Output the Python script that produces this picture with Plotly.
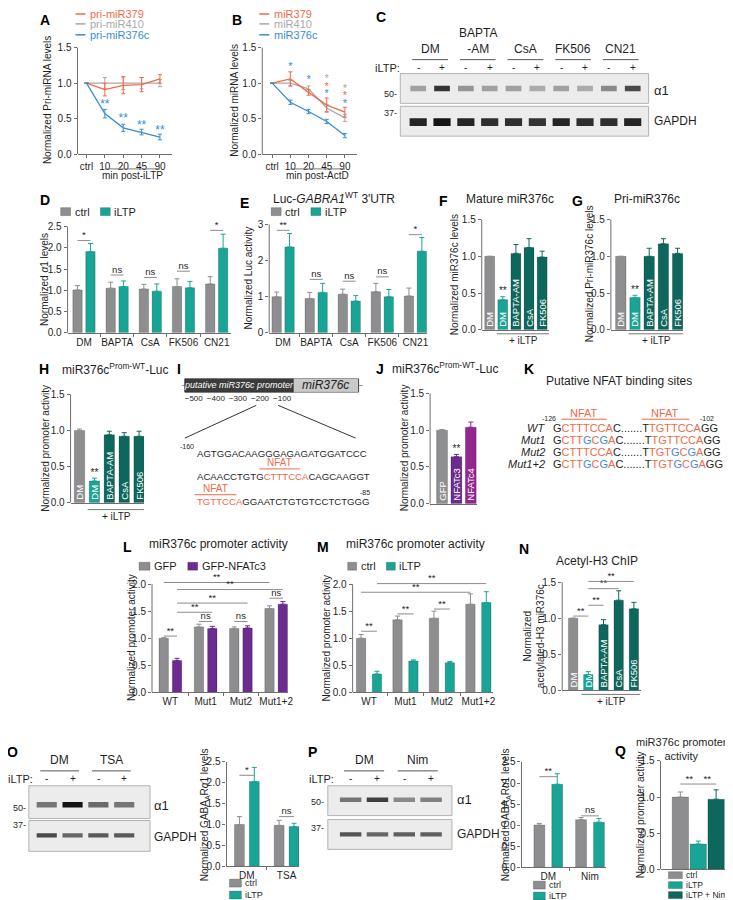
import plotly.graph_objects as go

W, H = 733, 900
FONT = "Arial, 'Liberation Sans', sans-serif"
INK = "#1f1f1f"
AXIS = "#6e6e6e"
GRAY = "#8e8e90"
LINE_GRAY = "#a8a8a8"
TEAL = "#19a596"
DTEAL = "#0d675c"
PURPLE = "#6b2b8f"
MAGENTA = "#93278f"
ORANGE = "#f06a4a"
BLUE = "#3a8dd5"
ARROW = "#2fb2a6"

# ---- A / B : time courses ----
TIMES = ["ctrl", "10", "20", "45", "90"]
A_PRI379 = [1.00, 0.91, 0.97, 0.98, 1.06]
A_PRI379_SEM = [0.0, 0.09, 0.12, 0.10, 0.06]
A_PRI410 = [1.00, 1.00, 1.00, 1.00, 1.00]
A_PRI410_SEM = [0.0, 0.08, 0.09, 0.08, 0.05]
A_PRI376C = [1.00, 0.57, 0.37, 0.31, 0.24]
A_PRI376C_SEM = [0.0, 0.06, 0.05, 0.04, 0.04]
A_STAR_X = [1, 2, 3, 4]
A_STAR_Y = [0.69, 0.49, 0.40, 0.33]

B_MIR379 = [1.00, 1.06, 0.87, 0.69, 0.59]
B_MIR379_SEM = [0.0, 0.10, 0.04, 0.10, 0.07]
B_MIR410 = [1.00, 1.00, 0.92, 0.65, 0.51]
B_MIR410_SEM = [0.0, 0.04, 0.04, 0.05, 0.05]
B_MIR376C = [1.00, 0.73, 0.60, 0.46, 0.26]
B_MIR376C_SEM = [0.0, 0.03, 0.03, 0.03, 0.03]
B_STAR_X = [1, 2, 3, 3, 3, 4, 4, 4]
B_STAR_Y = [1.22, 1.04, 1.05, 0.94, 0.84, 0.92, 0.81, 0.70]
B_STAR_SERIES = ["376c", "376c", "410", "379", "376c", "410", "379", "376c"]

# ---- C : western blot (band darkness 0..1) ----
C_GROUPS = ["DM", "BAPTA<br>-AM", "CsA", "FK506", "CN21"]
C_ILTP = ["-", "+"] * 5
C_A1 = [0.35, 0.85, 0.40, 0.35, 0.35, 0.30, 0.35, 0.30, 0.45, 0.75]
C_GAPDH = [0.92, 1.00, 0.92, 0.88, 0.88, 0.85, 0.92, 0.88, 0.88, 0.92]

# ---- D / E ----
DRUGS = ["DM", "BAPTA", "CsA", "FK506", "CN21"]
D_CTRL = [1.01, 1.05, 1.03, 1.09, 1.15]
D_CTRL_SEM = [0.10, 0.14, 0.11, 0.18, 0.17]
D_ILTP = [1.91, 1.09, 0.98, 1.06, 1.99]
D_ILTP_SEM = [0.19, 0.13, 0.17, 0.15, 0.33]
D_SIG = [(0, 2.17, "*"), (1, 1.36, "ns"), (2, 1.30, "ns"), (3, 1.45, "ns"), (4, 2.41, "*")]

E_CTRL = [1.00, 0.95, 1.07, 1.14, 1.02]
E_CTRL_SEM = [0.13, 0.17, 0.14, 0.23, 0.22]
E_ILTP = [2.38, 1.12, 0.88, 1.00, 2.26]
E_ILTP_SEM = [0.37, 0.25, 0.15, 0.20, 0.38]
E_SIG = [(0, 2.84, "**"), (1, 1.48, "ns"), (2, 1.43, "ns"), (3, 1.55, "ns"), (4, 2.72, "*")]

# ---- F / G / H / N : DM vs +iLTP with inhibitors ----
TREATS = ["DM", "DM", "BAPTA-AM", "CsA", "FK506"]
TREAT_COLORS = [GRAY, TEAL, DTEAL, DTEAL, DTEAL]
F_VALS = [1.00, 0.41, 1.04, 1.12, 0.99]
F_SEM = [0.0, 0.04, 0.12, 0.12, 0.08]
G_VALS = [1.00, 0.44, 1.00, 1.17, 1.04]
G_SEM = [0.0, 0.03, 0.11, 0.07, 0.07]
H_VALS = [1.00, 0.30, 0.94, 0.92, 0.92]
H_SEM = [0.02, 0.04, 0.05, 0.05, 0.07]
N_VALS = [1.00, 0.22, 0.91, 1.25, 1.13]
N_SEM = [0.0, 0.04, 0.07, 0.13, 0.09]
N_SIG = [(0, 1, 1.03), (1, 2, 1.18), (1, 3, 1.41), (1, 4, 1.51)]

# ---- J ----
J_LABELS = ["GFP", "NFATc3", "NFATc4"]
J_VALS = [1.00, 0.64, 1.04]
J_SEM = [0.01, 0.03, 0.07]

# ---- L / M ----
CONSTRUCTS = ["WT", "Mut1", "Mut2", "Mut1+2"]
L_GFP = [1.00, 1.21, 1.18, 1.55]
L_GFP_SEM = [0.01, 0.05, 0.03, 0.05]
L_NFATC3 = [0.59, 1.18, 1.19, 1.63]
L_NFATC3_SEM = [0.04, 0.04, 0.04, 0.05]
L_SIG = [((0, 0), (0, 1), 1.04, "**"), ((1, 0), (1, 1), 1.31, "ns"),
         ((2, 0), (2, 1), 1.31, "ns"), ((3, 0), (3, 1), 1.74, "ns"),
         ((0, 0), (3, 0), 2.03, "**"), ((0, 1), (3, 1), 1.90, "**"),
         ((0, 1), (2, 1), 1.65, "**"), ((0, 1), (1, 1), 1.48, "**")]
M_CTRL = [1.00, 1.34, 1.37, 1.63]
M_CTRL_SEM = [0.07, 0.07, 0.13, 0.19]
M_ILTP = [0.34, 0.58, 0.55, 1.66]
M_ILTP_SEM = [0.05, 0.02, 0.02, 0.20]
M_SIG = [((0, 0), (0, 1), 1.13, "**"), ((1, 0), (1, 1), 1.45, "**"),
         ((2, 0), (2, 1), 1.54, "**"), ((0, 1), (3, 1), 2.01, "**"),
         ((0, 0), (3, 0), 1.85, "**")]

# ---- O / P : blots + quantification ----
O_GROUPS = ["DM", "TSA"]
P_GROUPS = ["DM", "Nim"]
LANES_4 = ["-", "+", "-", "+"]
O_A1 = [0.55, 1.00, 0.60, 0.55]
O_GAPDH = [0.75, 0.62, 0.68, 0.68]
P_A1 = [0.55, 0.80, 0.45, 0.50]
P_GAPDH = [0.70, 0.62, 0.65, 0.65]
O_CTRL = [1.00, 0.98]
O_CTRL_SEM = [0.19, 0.12]
O_ILTP = [2.03, 0.95]
O_ILTP_SEM = [0.34, 0.08]
O_SIG = [(0, 2.18, "*"), (1, 1.19, "ns")]
P_CTRL = [1.00, 1.13]
P_CTRL_SEM = [0.04, 0.05]
P_ILTP = [1.97, 1.07]
P_ILTP_SEM = [0.25, 0.09]
P_SIG = [(0, 2.15, "**"), (1, 1.22, "ns")]

# ---- Q ----
Q_LABELS = ["ctrl", "iLTP", "iLTP + Nim"]
Q_COLORS = [GRAY, TEAL, DTEAL]
Q_VALS = [1.00, 0.35, 0.97]
Q_SEM = [0.07, 0.04, 0.13]
Q_SIG = [(0, 1, 1.18), (1, 2, 1.18)]

fig = go.Figure()
lay, shapes, annos = {}, [], []


def k_of(n):
    return "" if n == 1 else str(n)


def note(x, y, text, size=10, color=INK, xa="center", ya="middle", angle=0, xref="paper"):
    annos.append(dict(
        x=x / W if xref == "paper" else x, y=1 - y / H, xref=xref, yref="paper",
        text=text, showarrow=False, font=dict(size=size, color=color),
        xanchor=xa, yanchor=ya, textangle=angle,
    ))


def ytitle(x, y, text):
    note(x, y, text, size=10, angle=-90)


def hline(x0, x1, y, xref="paper", color=AXIS, width=1):
    shapes.append(dict(
        type="line", xref=xref, yref="paper",
        x0=x0 / W if xref == "paper" else x0, x1=x1 / W if xref == "paper" else x1,
        y0=1 - y / H, y1=1 - y / H, line=dict(color=color, width=width),
    ))


def letter(x, y, s):
    note(x, y, "<b>%s</b>" % s, size=14, color="#000")


def key_box(x0, x1, y, color, label, size=10, h=8):
    shapes.append(dict(type="rect", xref="paper", yref="paper",
                       x0=x0 / W, x1=x1 / W, y0=1 - (y + h / 2) / H, y1=1 - (y - h / 2) / H,
                       fillcolor=color, line=dict(color="rgba(0,0,0,0.35)", width=0.6)))
    note(x1 + 2, y, label, size=size, xa="left")


def key_line(x0, x1, y, color, label):
    hline(x0, x1, y, color=color, width=1.5)
    note(x1 + 3, y, label, size=11, color=color, xa="left")


def add_axes(n, left, right, bottom, top, tmax, c0, step, yticks, extra=8, yfmt=".1f",
             xlabels=None, minor=None, xtickmarks=False):
    k = k_of(n)
    ppu = (bottom - top) / tmax
    xa = dict(
        domain=[left / W, right / W], range=[(left - c0) / step, (right - c0) / step],
        anchor="y" + k, showgrid=False, zeroline=False,
        showline=True, linecolor=AXIS, linewidth=1,
        tickmode="array", tickvals=list(range(len(xlabels or []))), ticktext=xlabels or [],
        ticks="outside" if xtickmarks else "", ticklen=3, tickcolor=AXIS,
        tickfont=dict(size=10, color=INK),
    )
    if minor:
        xa["minor"] = dict(tickmode="array", tickvals=minor, ticks="outside", ticklen=3,
                           tickcolor=AXIS, showgrid=False)
    lay["xaxis" + k] = xa
    lay["yaxis" + k] = dict(
        domain=[1 - bottom / H, 1 - (top - extra) / H], range=[0, tmax + extra / ppu],
        anchor="x" + k, showgrid=False, zeroline=False, showline=False,
        tickmode="array", tickvals=yticks, tickformat=yfmt,
        ticks="outside", ticklen=3, tickcolor=AXIS, tickfont=dict(size=10, color=INK),
    )
    shapes.append(dict(type="line", xref="x%s domain" % k, yref="y" + k, x0=0, x1=0,
                       y0=0, y1=tmax, line=dict(color=AXIS, width=1)))


def bar_panel(n, series, step, bar_px, off_px=0, labels=None):
    """series: list of (values, sem, colors). returns x-position function."""
    k = k_of(n)
    ns = len(series)
    off = off_px / step

    def bx(i, s=0):
        return i + (s - (ns - 1) / 2) * 2 * off

    for s, (vals, sem, colors) in enumerate(series):
        for i, v in enumerate(vals):
            c = colors[i] if isinstance(colors, list) else colors
            bar = dict(
                x=[bx(i, s)], y=[v], width=bar_px / step,
                marker=dict(color=c, line=dict(color="rgba(0,0,0,0.3)", width=0.6)),
                error_y=dict(type="data", symmetric=False, array=[sem[i]], arrayminus=[0],
                             color=c, thickness=1, width=2.5),
                xaxis="x" + k, yaxis="y" + k, hoverinfo="skip",
            )
            if labels:
                bar.update(text=[labels[i]], textposition="inside", insidetextanchor="start",
                           textangle=-90, constraintext="none",
                           textfont=dict(color="white", size=9.5))
            fig.add_trace(go.Bar(**bar))
    return bx


def sig_mark(n, xa, xb, y, label, size=9.5):
    k = k_of(n)
    fig.add_trace(go.Scatter(x=[xa, xb], y=[y, y], mode="lines",
                             line=dict(color="#707070", width=0.8),
                             xaxis="x" + k, yaxis="y" + k, hoverinfo="skip"))
    fig.add_trace(go.Scatter(x=[(xa + xb) / 2], y=[y], mode="text", text=[label],
                             textposition="top center", textfont=dict(size=size, color=INK),
                             cliponaxis=False, xaxis="x" + k, yaxis="y" + k, hoverinfo="skip"))


def star(n, x, y, label="**", color=INK, size=10, pos="top center"):
    k = k_of(n)
    fig.add_trace(go.Scatter(x=x if isinstance(x, list) else [x], y=y if isinstance(y, list) else [y],
                             mode="text", text=label, textposition=pos,
                             textfont=dict(size=size, color=color), cliponaxis=False,
                             xaxis="x" + k, yaxis="y" + k, hoverinfo="skip"))


def blot_axes(n, x0, x1, y0, y1, c0, step):
    k = k_of(n)
    lay["xaxis" + k] = dict(domain=[x0 / W, x1 / W], range=[(x0 - c0) / step, (x1 - c0) / step],
                            anchor="y" + k, visible=False)
    lay["yaxis" + k] = dict(domain=[1 - y1 / H, 1 - y0 / H], range=[0, 1],
                            anchor="x" + k, visible=False)
    shapes.append(dict(type="rect", xref="x%s domain" % k, yref="y%s domain" % k,
                       x0=0, x1=1, y0=0, y1=1, fillcolor="#ececec",
                       line=dict(color="#b3b3b3", width=1), layer="below"))


def bands(n, dark, yc, h, w):
    k = k_of(n)
    fig.add_trace(go.Bar(
        x=list(range(len(dark))), y=[h] * len(dark), base=[yc - h / 2] * len(dark), width=w,
        marker=dict(color=["rgba(20,20,20,%.2f)" % d for d in dark], line=dict(width=0)),
        xaxis="x" + k, yaxis="y" + k, hoverinfo="skip",
    ))


def blot_labels(n, groups, lanes, y_group, y_lane, ltp_x):
    k = k_of(n)
    for g, name in enumerate(groups):
        note(2 * g + 0.5, y_group - 2, name, size=12, ya="bottom", xref="x" + k)
        hline(2 * g - 0.25, 2 * g + 1.25, y_group, xref="x" + k, color="#555")
    for i, s in enumerate(lanes):
        note(i, y_lane, s, size=10, xref="x" + k)
    note(ltp_x, y_lane, "iLTP:", size=11, xa="right")


# ================= A =================
letter(37, 12, "A")
add_axes(1, 70, 165, 147, 40, 1.5, 79, 18.5, [0, 0.5, 1.0, 1.5], extra=8,
         xlabels=TIMES, xtickmarks=True)
for vals, sem, col in [(A_PRI410, A_PRI410_SEM, LINE_GRAY), (A_PRI379, A_PRI379_SEM, ORANGE),
                       (A_PRI376C, A_PRI376C_SEM, BLUE)]:
    fig.add_trace(go.Scatter(x=list(range(5)), y=vals, mode="lines", line=dict(color=col, width=1.3),
                             error_y=dict(type="data", array=sem, color=col, thickness=1, width=2),
                             xaxis="x", yaxis="y", hoverinfo="skip"))
star(1, A_STAR_X, A_STAR_Y, "**", BLUE, 12, "middle center")
key_line(68, 78, 6, ORANGE, "pri-miR379")
key_line(68, 78, 16, LINE_GRAY, "pri-miR410")
key_line(68, 78, 27, BLUE, "pri-miR376c")
hline(1, 4, 162, xref="x", color="#777")
note(2.5, 169, "min post-iLTP", size=10, xref="x")
ytitle(40, 93, "Normalized Pri-miRNA levels")

# ================= B =================
letter(231, 12, "B")
add_axes(2, 256, 351, 147, 40, 1.5, 266, 18.3, [0, 0.5, 1.0, 1.5], extra=8,
         xlabels=TIMES, xtickmarks=True)
B_COLORS = {"379": ORANGE, "410": LINE_GRAY, "376c": BLUE}
for vals, sem, col in [(B_MIR410, B_MIR410_SEM, LINE_GRAY), (B_MIR379, B_MIR379_SEM, ORANGE),
                       (B_MIR376C, B_MIR376C_SEM, BLUE)]:
    fig.add_trace(go.Scatter(x=list(range(5)), y=vals, mode="lines", line=dict(color=col, width=1.3),
                             error_y=dict(type="data", array=sem, color=col, thickness=1, width=2),
                             xaxis="x2", yaxis="y2", hoverinfo="skip"))
for x, y, s in zip(B_STAR_X, B_STAR_Y, B_STAR_SERIES):
    star(2, x, y, "*", B_COLORS[s], 11, "middle center")
key_line(253, 263, 6, ORANGE, "miR379")
key_line(253, 263, 16, LINE_GRAY, "miR410")
key_line(253, 263, 27, BLUE, "miR376c")
hline(1, 4, 162, xref="x2", color="#777")
note(2.5, 169, "min post-ActD", size=10, xref="x2")
ytitle(228, 93, "Normalized miRNA levels")

# ================= C =================
letter(376, 9, "C")
blot_axes(3, 395, 645, 66, 96, 413, 24)
blot_axes(4, 395, 645, 99, 129, 413, 24)
bands(3, C_A1, 0.5, 0.18, 0.66)
bands(4, C_GAPDH, 0.47, 0.26, 0.72)
blot_labels(3, C_GROUPS, C_ILTP, 52, 60, 397)
note(394, 87, "50-", size=9, xa="right")
note(394, 106, "37-", size=9, xa="right")
note(648, 83, "α1", size=13, xa="left")
note(648, 114, "GAPDH", size=12, xa="left")

# ================= D =================
letter(37, 193, "D")
add_axes(5, 60, 225, 327, 220, 2.5, 76.5, 33.4, [0, 0.5, 1.0, 1.5, 2.0, 2.5], extra=6,
         xlabels=DRUGS, minor=[0.5, 1.5, 2.5, 3.5])
bx = bar_panel(5, [(D_CTRL, D_CTRL_SEM, GRAY), (D_ILTP, D_ILTP_SEM, TEAL)], 33.4, 9.5, 6.5)
for g, y, lab in D_SIG:
    sig_mark(5, bx(g, 0), bx(g, 1), y, lab)
key_box(53, 63, 205, GRAY, "ctrl", size=11)
key_box(93, 103, 205, TEAL, "iLTP", size=11)
ytitle(36, 273, "Normalized <i>α</i>1 levels")

# ================= E =================
letter(238, 196, "E")
note(265, 191, "Luc-<i>GABRA1</i><sup>WT</sup> 3'UTR", size=12, xa="left")
add_axes(6, 263, 422, 327, 218, 3, 277, 33.3, [0, 1, 2, 3], extra=6, yfmt="d",
         xlabels=DRUGS, minor=[0.5, 1.5, 2.5, 3.5])
bx = bar_panel(6, [(E_CTRL, E_CTRL_SEM, GRAY), (E_ILTP, E_ILTP_SEM, TEAL)], 33.3, 9.5, 6.5)
for g, y, lab in E_SIG:
    sig_mark(6, bx(g, 0), bx(g, 1), y, lab)
key_box(265, 275, 205, GRAY, "ctrl", size=11)
key_box(305, 315, 205, TEAL, "iLTP", size=11)
ytitle(242, 272, "Normalized Luc activity")

# ================= F =================
letter(438, 194, "F")
note(505, 192, "Mature miR376c", size=12)
add_axes(7, 477, 545, 324, 213, 1.5, 485, 13.2, [0, 0.5, 1.0, 1.5], extra=6)
bar_panel(7, [(F_VALS, F_SEM, TREAT_COLORS)], 13.2, 10, labels=TREATS)
star(7, 1, F_VALS[1] + F_SEM[1])
hline(0.55, 4.55, 328, xref="x7", color="#777")
note(2.55, 335, "+ iLTP", size=10, xref="x7")
ytitle(449, 268, "Normalized miR376c levels")

# ================= G =================
letter(573, 194, "G")
note(643, 192, "Pri-miR376c", size=12)
add_axes(8, 607, 680, 324, 213, 1.5, 617, 14.3, [0, 0.5, 1.0, 1.5], extra=6)
bar_panel(8, [(G_VALS, G_SEM, TREAT_COLORS)], 14.3, 10.5, labels=TREATS)
star(8, 1, G_VALS[1] + G_SEM[1])
hline(0.55, 4.4, 328, xref="x8", color="#777")
note(2.5, 335, "+ iLTP", size=10, xref="x8")
ytitle(585, 268, "Normalized Pri-miR376c levels")

# ================= H =================
letter(36, 363, "H")
note(52, 363, "miR376c<sup>Prom-WT</sup>-Luc", size=12, xa="left")
add_axes(9, 63, 137, 498, 389, 1.5, 72, 15, [0, 0.5, 1.0, 1.5], extra=6)
bar_panel(9, [(H_VALS, H_SEM, TREAT_COLORS)], 15, 10.5, labels=TREATS)
star(9, 1, H_VALS[1] + H_SEM[1])
hline(0.55, 4.4, 505, xref="x9", color="#777")
note(2.45, 512, "+ iLTP", size=10, xref="x9")
ytitle(37, 443, "Normalized promoter activity")

# ================= I =================
letter(172, 363, "I")
lay["xaxis10"] = dict(domain=[175 / W, 357 / W], range=[-554, 264], anchor="y10",
                      showgrid=False, zeroline=False, showline=False, ticks="",
                      tickmode="array", tickvals=[-500, -400, -300, -200, -100],
                      tickfont=dict(size=8, color=INK))
lay["yaxis10"] = dict(domain=[1 - 387 / H, 1 - 373 / H], range=[0, 1], anchor="x10", visible=False)
shapes.append(dict(type="line", xref="x10 domain", yref="y10", x0=0, x1=1, y0=0.5, y1=0.5,
                   line=dict(color="#999", width=1), layer="below"))
shapes.append(dict(type="rect", xref="x10", yref="y10", x0=-540, x1=-50, y0=0, y1=1,
                   fillcolor="#3b3b3b", line=dict(color="#222", width=1)))
shapes.append(dict(type="rect", xref="x10", yref="y10", x0=-50, x1=246, y0=0, y1=1,
                   fillcolor="#c9c9c9", line=dict(color="#444", width=1)))
annos.append(dict(x=-295, y=0.5, xref="x10", yref="y10", text="<i>putative miR376c promoter</i>",
                  showarrow=False, font=dict(size=9, color="white")))
annos.append(dict(x=98, y=0.5, xref="x10", yref="y10", text="<i>miR376c</i>",
                  showarrow=False, font=dict(size=12, color="#222")))
shapes.append(dict(type="line", xref="x10", yref="y10", x0=-50, x1=-50, y0=1, y1=1.5,
                   line=dict(color=ARROW, width=1.2)))
annos.append(dict(x=53, y=1.5, ax=-50, ay=1.5, xref="x10", yref="y10", axref="x10", ayref="y10",
                  text="", showarrow=True, arrowhead=2, arrowsize=1, arrowwidth=1.2, arrowcolor=ARROW))
shapes.append(dict(type="line", xref="paper", yref="paper", x0=250 / W, y0=1 - 400 / H,
                   x1=178 / W, y1=1 - 433 / H, line=dict(color="#333", width=1)))
shapes.append(dict(type="line", xref="paper", yref="paper", x0=272 / W, y0=1 - 400 / H,
                   x1=350 / W, y1=1 - 433 / H, line=dict(color="#333", width=1)))
OR = "<span style='color:%s'>%%s</span>" % ORANGE
BL = "<span style='color:%s'>%%s</span>" % BLUE
note(180, 441, "-160", size=7)
note(188, 448, "AGTGGACAAGGGAGAGATGGATCCC", size=9.6, xa="left")
note(273, 458, "NFAT", size=10, color=ORANGE)
hline(253, 294, 464, color=ORANGE)
note(188, 472, "ACAACCTGTG" + OR % "CTTTCCA" + "CAGCAAGGT", size=9.6, xa="left")
note(209, 484, "NFAT", size=10, color=ORANGE)
hline(188, 230, 490, color=ORANGE)
note(188, 497, OR % "TGTTCCA" + "GGAATCTGTGTCCTCTGGG", size=9.6, xa="left")
note(359, 488, "-85", size=7)

# ================= J =================
letter(375, 363, "J")
note(385, 362, "miR376c<sup>Prom-WT</sup>-Luc", size=12, xa="left")
add_axes(11, 425, 472, 499, 388, 1.5, 437, 14.5, [0, 0.5, 1.0, 1.5], extra=6)
bar_panel(11, [(J_VALS, J_SEM, [GRAY, PURPLE, MAGENTA])], 14.5, 11, labels=J_LABELS)
star(11, 1, J_VALS[1] + J_SEM[1])
ytitle(399, 443, "Normalized promoter activity")

# ================= K =================
letter(525, 363, "K")
note(615, 376, "Putative NFAT binding sites", size=12)
note(545, 413, "-126", size=7)
note(704, 413, "-102", size=7)
note(580, 408, "NFAT", size=11, color=ORANGE)
hline(557, 603, 414, color=ORANGE)
note(662, 408, "NFAT", size=11, color=ORANGE)
hline(638, 686, 414, color=ORANGE)
SITE1 = {"wt": OR % "CTTTCCA", "mut": OR % "CTT" + BL % "G" + OR % "C" + BL % "G" + OR % "A"}
SITE2 = {"wt": OR % "TGTTCCA", "mut": OR % "TGT" + BL % "G" + OR % "C" + BL % "G" + OR % "A"}
for yy, name, s1, s2 in [(423, "WT", "wt", "wt"), (435, "Mut1", "mut", "wt"),
                         (447, "Mut2", "wt", "mut"), (459, "Mut1+2", "mut", "mut")]:
    note(543, yy, "<i>%s</i>" % name, size=11, xa="right")
    note(547, yy, "G" + SITE1[s1] + "C.......T" + SITE2[s2] + "GG", size=11, xa="left")

# ================= L =================
letter(120, 543, "L")
note(212, 540, "miR376c promoter activity", size=12)
add_axes(12, 145, 282, 689, 580, 2, 163.5, 35.5, [0, 0.5, 1.0, 1.5, 2.0], extra=10,
         xlabels=CONSTRUCTS, minor=[0.5, 1.5, 2.5])
bx = bar_panel(12, [(L_GFP, L_GFP_SEM, GRAY), (L_NFATC3, L_NFATC3_SEM, PURPLE)], 35.5, 9.5, 6.7)
for a, b, y, lab in L_SIG:
    sig_mark(12, bx(*a), bx(*b), y, lab)
key_box(132, 143, 562, GRAY, "GFP", size=11)
key_box(181, 191, 562, PURPLE, "GFP-NFATc3", size=11)
ytitle(125, 634, "Normalized promoter activity")

# ================= M =================
letter(317, 543, "M")
note(410, 540, "miR376c promoter activity", size=12)
add_axes(13, 347, 488, 689, 580, 2, 363.5, 36.7, [0, 0.5, 1.0, 1.5, 2.0], extra=10,
         xlabels=CONSTRUCTS, minor=[0.5, 1.5, 2.5])
bx = bar_panel(13, [(M_CTRL, M_CTRL_SEM, GRAY), (M_ILTP, M_ILTP_SEM, TEAL)], 36.7, 9.5, 8)
for a, b, y, lab in M_SIG:
    sig_mark(13, bx(*a), bx(*b), y, lab)
key_box(342, 351, 562, GRAY, "ctrl", size=11)
key_box(381, 390, 562, TEAL, "iLTP", size=11)
ytitle(321, 634, "Normalized promoter activity")

# ================= N =================
letter(520, 545, "N")
note(593, 557, "Acetyl-H3 ChIP", size=12)
add_axes(14, 558, 637, 687, 578, 1.5, 569, 15.3, [0, 0.5, 1.0, 1.5], extra=12)
bar_panel(14, [(N_VALS, N_SEM, TREAT_COLORS)], 15.3, 9.5, labels=TREATS)
for a, b, y in N_SIG:
    sig_mark(14, a, b, y, "**")
hline(0.55, 4.4, 691, xref="x14", color="#777")
note(2.5, 698, "+ iLTP", size=10, xref="x14")
ytitle(529, 632, "Normalized<br>acetylated-H3 miR376c")

# ================= O =================
letter(5, 749, "O")
blot_axes(15, 21, 143, 783, 816, 39, 26)
blot_axes(16, 21, 143, 818, 849, 39, 26)
bands(15, O_A1, 0.42, 0.17, 0.78)
bands(16, O_GAPDH, 0.52, 0.14, 0.78)
blot_labels(15, O_GROUPS, LANES_4, 768, 776, 27)
note(20, 805, "50-", size=9, xa="right")
note(20, 822, "37-", size=9, xa="right")
note(145, 803, "α1", size=13, xa="left")
note(145, 835, "GAPDH", size=12, xa="left")

add_axes(17, 220, 293, 864, 759, 2.5, 240.5, 40, [0, 0.5, 1.0, 1.5, 2.0, 2.5], extra=6,
         xlabels=O_GROUPS, minor=[0.5])
bx = bar_panel(17, [(O_CTRL, O_CTRL_SEM, GRAY), (O_ILTP, O_ILTP_SEM, TEAL)], 40, 10, 7.5)
for g, y, lab in O_SIG:
    sig_mark(17, bx(g, 0), bx(g, 1), y, lab)
key_box(223, 235, 881, GRAY, "ctrl", size=9)
key_box(223, 235, 893, TEAL, "iLTP", size=9)
ytitle(198, 812, "Normalized GABA<sub>A</sub>R<i>α</i>1 levels")

# ================= P =================
letter(307, 749, "P")
blot_axes(18, 322, 447, 783, 813, 345, 27)
blot_axes(19, 322, 447, 817, 847, 345, 27)
bands(18, P_A1, 0.53, 0.15, 0.8)
bands(19, P_GAPDH, 0.5, 0.14, 0.8)
blot_labels(18, P_GROUPS, LANES_4, 768, 776, 330)
note(320, 799, "50-", size=9, xa="right")
note(320, 825, "37-", size=9, xa="right")
note(450, 797, "α1", size=13, xa="left")
note(450, 832, "GAPDH", size=12, xa="left")

add_axes(20, 517, 602, 865, 759, 2.5, 544, 42, [0, 0.5, 1.0, 1.5, 2.0, 2.5], extra=6,
         xlabels=P_GROUPS, minor=[0.5])
bx = bar_panel(20, [(P_CTRL, P_CTRL_SEM, GRAY), (P_ILTP, P_ILTP_SEM, TEAL)], 42, 11, 9)
for g, y, lab in P_SIG:
    sig_mark(20, bx(g, 0), bx(g, 1), y, lab)
key_box(529, 541, 883, GRAY, "ctrl", size=9)
key_box(529, 541, 894, TEAL, "iLTP", size=9)
ytitle(501, 812, "Normalized GABA<sub>A</sub>R<i>α</i>1 levels")

# ================= Q =================
letter(617, 748, "Q")
note(678, 746, "miR376c promoter<br>activity", size=11)
add_axes(21, 657, 722, 867, 758, 1.5, 677, 18, [0, 0.5, 1.0, 1.5], extra=8)
bar_panel(21, [(Q_VALS, Q_SEM, Q_COLORS)], 18, 16.5)
for a, b, y in Q_SIG:
    sig_mark(21, a, b, y, "**")
for yy, lab, col in zip([873, 883, 893], Q_LABELS, Q_COLORS):
    key_box(665, 679, yy, col, lab, size=8.5, h=7)
ytitle(637, 812, "Normalized promoter activity")

fig.update_layout(
    width=W, height=H, margin=dict(l=0, r=0, t=0, b=0),
    paper_bgcolor="white", plot_bgcolor="white",
    showlegend=False, barmode="overlay", hovermode=False,
    font=dict(family=FONT, size=10, color=INK),
    shapes=shapes, annotations=annos, **lay,
)
fig.write_html("out.html")
